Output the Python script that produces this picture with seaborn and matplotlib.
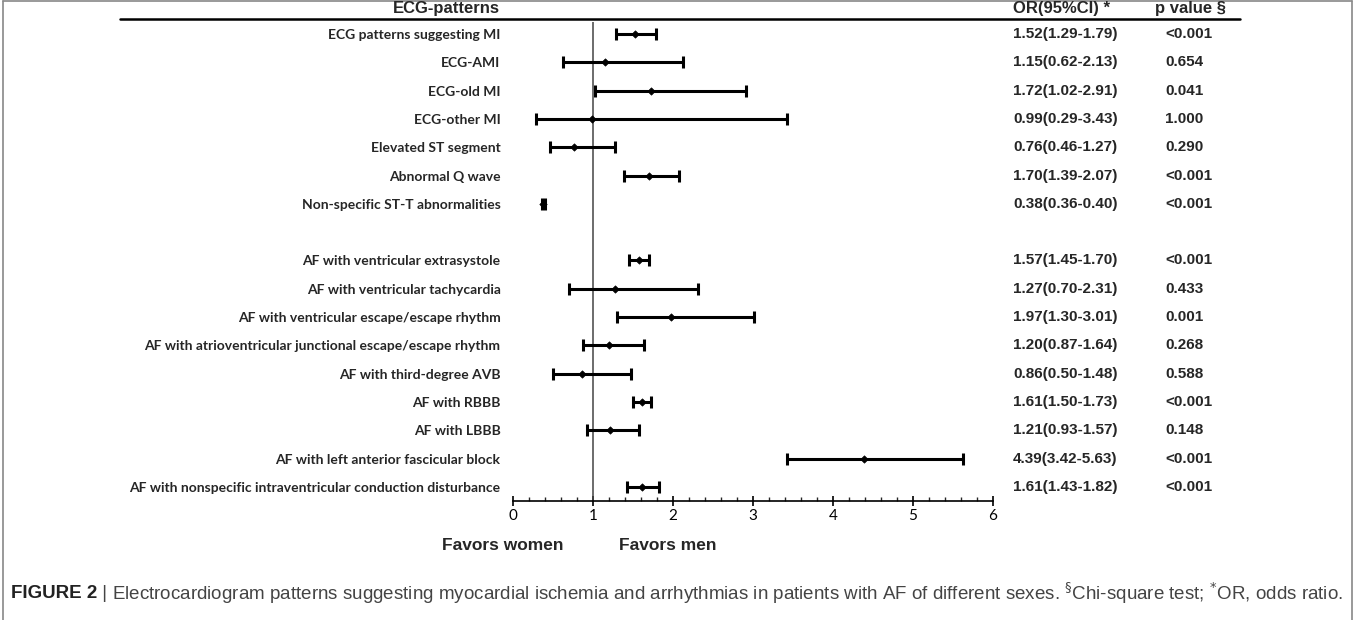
import matplotlib
matplotlib.use('Agg')
import matplotlib.pyplot as plt
from matplotlib.lines import Line2D
from matplotlib.ticker import MultipleLocator
import numpy as np
import pandas as pd
import seaborn as sns

# ── 데이터 ────────────────────────────────────────────────────
labels = [
    'ECG patterns suggesting MI', 'ECG-AMI', 'ECG-old MI', 'ECG-other MI',
    'Elevated ST segment', 'Abnormal Q wave', 'Non-specific ST-T abnormalities',
    'AF with ventricular extrasystole', 'AF with ventricular tachycardia',
    'AF with ventricular escape/escape rhythm',
    'AF with atrioventricular junctional escape/escape rhythm',
    'AF with third-degree AVB', 'AF with RBBB', 'AF with LBBB',
    'AF with left anterior fascicular block',
    'AF with nonspecific intraventricular conduction disturbance',
]
odds  = [1.52, 1.15, 1.72, 0.99, 0.76, 1.70, 0.38, 1.57, 1.27, 1.97, 1.20, 0.86, 1.61, 1.21, 4.39, 1.61]
ci_lo = [1.29, 0.62, 1.02, 0.29, 0.46, 1.39, 0.36, 1.45, 0.70, 1.30, 0.87, 0.50, 1.50, 0.93, 3.42, 1.43]
ci_hi = [1.79, 2.13, 2.91, 3.43, 1.27, 2.07, 0.40, 1.70, 2.31, 3.01, 1.64, 1.48, 1.73, 1.57, 5.63, 1.82]
pvals = ['<0.001', '0.654', '0.041', '1.000', '0.290', '<0.001', '<0.001',
         '<0.001', '0.433', '0.001', '0.268', '0.588', '<0.001', '0.148', '<0.001', '<0.001']
xticks = [0, 1, 2, 3, 4, 5, 6]

df = pd.DataFrame({'label': labels, 'OR': odds, 'lo': ci_lo, 'hi': ci_hi, 'p': pvals})
# 심전도(0-6) 와 부정맥 그룹 사이 빈 줄 하나
df['pos'] = np.arange(len(df)) + (np.arange(len(df)) >= 7)

sns.set_theme(style='white')
plt.rcParams['font.family'] = ['Lato', 'DejaVu Sans']

W, H = 1357, 620
fig = plt.figure(figsize=(W / 100, H / 100), dpi=100)

def fx(px): return px / W
def fy(py): return 1 - py / H

ax = fig.add_axes([fx(513), fy(501), fx(993) - fx(513), fy(22) - fy(501)])

ax.errorbar(df['OR'], df['pos'], xerr=[df['OR'] - df['lo'], df['hi'] - df['OR']],
            fmt='none', ecolor='black', elinewidth=2.2, capsize=4.5, capthick=2.2, zorder=2)
sns.scatterplot(data=df, x='OR', y='pos', marker='D', s=14, color='black',
                edgecolor='black', linewidth=0.5, ax=ax, zorder=3, legend=False)

ax.axvline(1, color='#444444', lw=1.1, zorder=1)

ax.set_xlim(0, 6)
ax.set_ylim(16.495, -0.424)
ax.set_xticks(xticks)
ax.set_xticklabels([str(t) for t in xticks], fontsize=11)
ax.xaxis.set_minor_locator(MultipleLocator(0.2))
ax.tick_params(axis='x', which='major', direction='inout', length=7, width=1.2,
               bottom=True, pad=2, colors='black')
ax.tick_params(axis='x', which='minor', direction='in', length=3, width=1, bottom=True)
ax.set_yticks(df['pos'])
ax.set_yticklabels(df['label'], fontsize=10, fontweight='bold')
ax.tick_params(axis='y', length=0, pad=9)
ax.set_xlabel('')
ax.set_ylabel('')
for s in ['left', 'top', 'right']:
    ax.spines[s].set_visible(False)
ax.spines['bottom'].set_color('black')
ax.spines['bottom'].set_linewidth(1.2)
ax.patch.set_alpha(0)

# 표 열: OR(95%CI), p value
arial = ['Liberation Sans', 'DejaVu Sans']
tr = ax.get_yaxis_transform()
col_or = (1013 - 513) / 480
col_p = (1165 - 513) / 480
for _, r in df.iterrows():
    ax.text(col_or, r['pos'], f"{r['OR']:.2f}({r['lo']:.2f}-{r['hi']:.2f})", transform=tr,
            ha='left', va='center', fontsize=11, fontweight='bold', family=arial, clip_on=False)
    ax.text(col_p, r['pos'], r['p'], transform=tr, ha='left', va='center', fontsize=11,
            fontweight='bold', family=arial, clip_on=False)

# 헤더
hdr = dict(fontsize=12, fontweight='bold', family=arial, va='center')
fig.text(fx(500), fy(8), 'ECG-patterns', ha='right', **hdr)
fig.text(fx(1013), fy(8), 'OR(95%CI) *', ha='left', **hdr)
fig.text(fx(1155), fy(8), 'p value §', ha='left', **hdr)
fig.add_artist(Line2D([fx(120), fx(1240)], [fy(19), fy(19)], color='black', lw=1.8))

fav = dict(fontsize=12.5, fontweight='bold', family=arial, va='center')
fig.text(fx(503), fy(545), 'Favors women', ha='center', **fav)
fig.text(fx(668), fy(545), 'Favors men', ha='center', **fav)

# 테두리 (아래쪽 없음)
border = dict(color='#888888', lw=1.2)
fig.add_artist(Line2D([fx(3), fx(3)], [fy(1), 0], **border))
fig.add_artist(Line2D([fx(3), fx(1352)], [fy(1), fy(1)], **border))
fig.add_artist(Line2D([fx(1352), fx(1352)], [fy(1), 0], **border))

# 캡션
fig.canvas.draw()
rend = fig.canvas.get_renderer()
cs = 13.5
t1 = fig.text(fx(11), fy(593), 'FIGURE 2', ha='left', va='center', fontsize=cs,
              fontweight='bold', family=arial, color='#222222')
x = t1.get_window_extent(rend).x1 / W
t2 = fig.text(x, fy(593), ' | ', ha='left', va='center', fontsize=cs, family=arial, color='#444444')
x = t2.get_window_extent(rend).x1 / W
t3 = fig.text(x, fy(593),
              'Electrocardiogram patterns suggesting myocardial ischemia and arrhythmias in patients '
              'with AF of different sexes. $^{\u00a7}$Chi-square test; $^{*}$OR, odds ratio.',
              ha='left', va='center', fontsize=cs, family=arial, color='#444444')

fig.savefig('out.png', dpi=100)
